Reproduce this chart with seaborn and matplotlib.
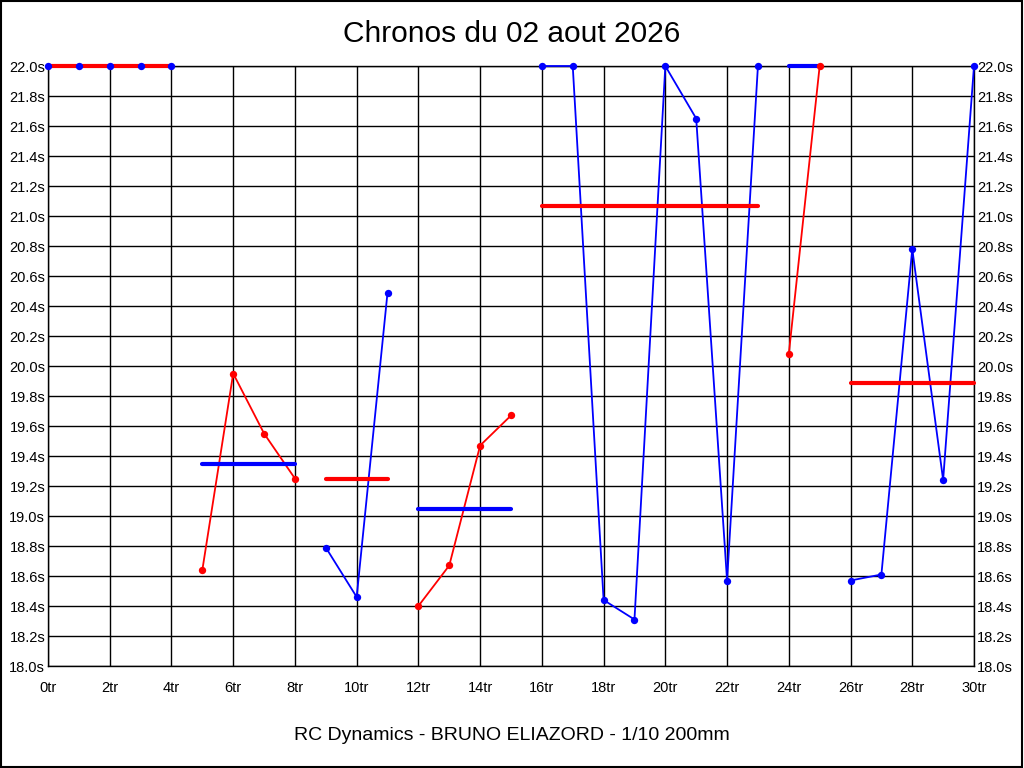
import numpy as np
import pandas as pd
import matplotlib
matplotlib.use('Agg')
import matplotlib.pyplot as plt
import seaborn as sns

# lap numbers and lap times (values above 22.0s are shown clipped at 22.0)
laps = list(range(31))
times = [22.0, 22.0, 22.0, 22.0, 22.0,
         18.64, 19.95, 19.55, 19.25,
         18.79, 18.46, 20.49,
         18.40, 18.67, 19.47, 19.67,
         22.0, 22.0, 18.44, 18.31, 22.0, 21.65, 18.57, 22.0,
         20.08, 22.0,
         18.57, 18.61, 20.78, 19.24, 22.0]

# one series per battery pack: first and last lap of each
seg_start = [0, 5, 9, 12, 16, 24, 26]
seg_end = [4, 8, 11, 15, 23, 25, 30]
seg_avg = [22.0, 19.35, 19.25, 19.05, 21.07, 22.0, 19.89]
seg_color = ['blue', 'red', 'blue', 'red', 'blue', 'red', 'blue']
avg_color = ['red', 'blue', 'red', 'blue', 'red', 'blue', 'red']

x_ticks = list(range(0, 31, 2))
x_labels = ['{}tr'.format(v) for v in x_ticks]
y_ticks = [round(18.0 + 0.2 * i, 1) for i in range(21)]
y_labels = ['{:.1f}s'.format(v) for v in y_ticks]

sns.set_style('white')
plt.rcParams['font.family'] = ['Liberation Sans', 'DejaVu Sans']
plt.rcParams['text.color'] = 'black'
plt.rcParams['xtick.color'] = 'black'
plt.rcParams['ytick.color'] = 'black'

df = pd.DataFrame({'lap': laps, 'time': times})

fig = plt.figure(figsize=(10.24, 7.68), dpi=100)
ax = fig.add_axes([48 / 1024, 102 / 768, 926 / 1024, 600 / 768])

for s, e, c in zip(seg_start, seg_end, seg_color):
    part = df[(df.lap >= s) & (df.lap <= e)]
    sns.lineplot(data=part, x='lap', y='time', color=c, linewidth=1.3,
                 ax=ax, clip_on=False, zorder=3)

for s, e, a, c in zip(seg_start, seg_end, seg_avg, avg_color):
    avg_df = pd.DataFrame({'lap': [s, e], 'time': [a, a]})
    sns.lineplot(data=avg_df, x='lap', y='time', color=c, linewidth=3,
                 ax=ax, clip_on=False, zorder=4)

for s, e, c in zip(seg_start, seg_end, seg_color):
    part = df[(df.lap >= s) & (df.lap <= e)]
    sns.scatterplot(data=part, x='lap', y='time', color=c, s=28,
                    linewidth=0, ax=ax, clip_on=False, zorder=5)

ax.set_xlim(0, 30)
ax.set_ylim(18.0, 22.0)
ax.set_xticks(x_ticks)
ax.set_xticklabels(x_labels, fontsize=10.5)
ax.set_yticks(y_ticks)
ax.set_yticklabels(y_labels, fontsize=10.5)
ax.grid(True, color='black', linewidth=1)
ax.set_axisbelow(True)
ax.tick_params(axis='x', length=0, pad=11)
ax.tick_params(axis='y', length=0, pad=2, labelright=True, right=False)
for sp in ax.spines.values():
    sp.set_color('black')
    sp.set_linewidth(1)
ax.set_xlabel('')
ax.set_ylabel('')

fig.text(0.5, 1 - 34 / 768, 'Chronos du 02 aout 2026', ha='center', va='center',
         fontsize=21.5)
fig.text(0.5, 1 - 735 / 768, 'RC Dynamics - BRUNO ELIAZORD - 1/10 200mm',
         ha='center', va='center', fontsize=14)

# frame around the whole picture
fig.patches.append(plt.Rectangle((0.0005, 0.0007), 0.998, 0.998, transform=fig.transFigure,
                                 fill=False, edgecolor='black', linewidth=1.5))

fig.savefig('out.png', dpi=100)
